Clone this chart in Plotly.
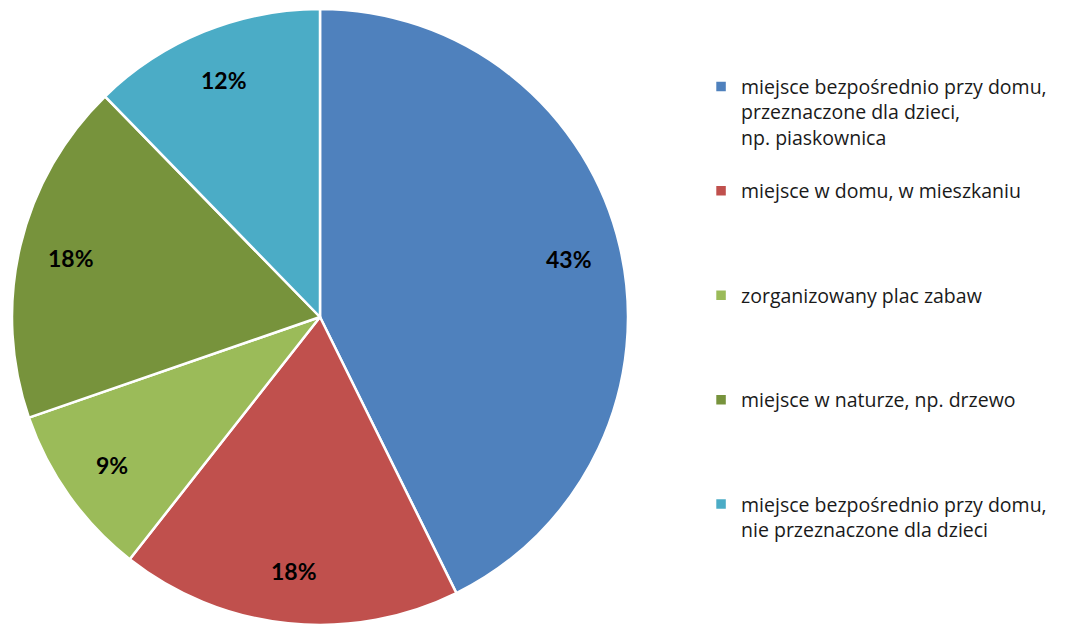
import math
import plotly.graph_objects as go

categories = [
    "miejsce bezpośrednio przy domu,<br>przeznaczone dla dzieci,<br>np. piaskownica<br> ",
    "miejsce w domu, w mieszkaniu<br> <br> <br> ",
    "zorganizowany plac zabaw<br> <br> <br> ",
    "miejsce w naturze, np. drzewo<br> <br> <br> ",
    "miejsce bezpośrednio przy domu,<br>nie przeznaczone dla dzieci<br> <br> ",
]
values = [42.7, 17.9, 9.1, 18.0, 12.3]
colors = ["#4F81BD", "#C0504D", "#9BBB59", "#77933C", "#4BACC6"]

W, H = 1072, 624
# page has an 8px body margin; positions below are in figure pixels
cx, cy, r = 312, 309, 308
label_k = 0.83

fig = go.Figure(go.Pie(
    labels=categories,
    values=values,
    sort=False,
    direction="clockwise",
    rotation=0,
    marker=dict(colors=colors, line=dict(color="white", width=2.5)),
    textinfo="none",
    textposition="none",
    hoverinfo="skip",
    domain=dict(x=[(cx - r) / W, (cx + r) / W], y=[1 - (cy + r) / H, 1 - (cy - r) / H]),
))

# percentage labels placed at the middle angle of each slice
total = sum(values)
cum = 0.0
for v in values:
    mid = (cum + v / 2) / total * 2 * math.pi
    cum += v
    px = cx + label_k * r * math.sin(mid)
    py = cy - label_k * r * math.cos(mid)
    fig.add_annotation(
        x=px / W, y=1 - py / H, xref="paper", yref="paper",
        xanchor="center", yanchor="middle",
        text="<b>%d%%</b>" % round(v / total * 100),
        showarrow=False,
        font=dict(family="Lato", size=23, color="black"),
    )

fig.update_layout(
    width=W, height=H,
    margin=dict(l=0, r=0, t=0, b=0),
    paper_bgcolor="white",
    plot_bgcolor="white",
    showlegend=True,
    legend=dict(
        x=0.6465, y=0.905, xanchor="left", yanchor="top",
        font=dict(family="Open Sans", size=19.5, color="#1a1a1a"),
        valign="top",
        bgcolor="rgba(0,0,0,0)",
    ),
)

fig.write_html("out.html")
